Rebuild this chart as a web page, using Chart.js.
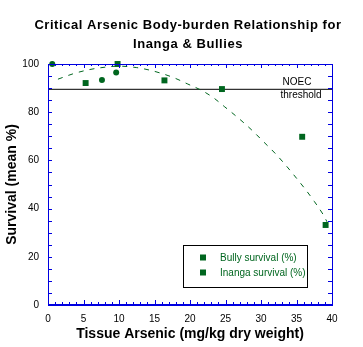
<!DOCTYPE html>
<html><head><meta charset="utf-8">
<script src="https://cdn.jsdelivr.net/npm/chart.js@4/dist/chart.umd.min.js"></script>
<style>html,body{margin:0;padding:0;background:#fff;overflow:hidden}</style>
</head><body>
<canvas id="c" width="363" height="347" style="width:363px;height:347px;display:block"></canvas>
<script>
const titleLines = ['Critical Arsenic Body-burden Relationship for', 'Inanga & Bullies'];
const xAxisTitle = 'Tissue Arsenic (mg/kg dry weight)';
const yAxisTitle = 'Survival (mean %)';
const seriesNames = ['Bully survival (%)', 'Inanga survival (%)'];
const bullyX = [5.3, 9.8, 16.4, 24.5, 35.8, 39.1];
const bullyY = [92.1, 100, 93.2, 89.6, 69.8, 33.2];
const inangaX = [0.6, 7.6, 9.6];
const inangaY = [100, 93.4, 96.5];
const fitX = [1.4, 3.5, 5.4, 7.3, 10.0, 12.5, 14.4, 16.2, 17.9, 19.6, 21.6, 23.3, 24.9, 26.8, 28.7, 30.3, 32.0, 33.6, 35.0, 36.3, 37.5, 38.8, 39.3];
const fitY = [93.7, 95.9, 97.4, 98.4, 99.1, 98.5, 97.4, 95.9, 94.1, 91.8, 89.1, 86.0, 82.2, 77.6, 72.6, 67.9, 62.9, 57.6, 52.6, 47.8, 43.0, 37.3, 34.5];
const noecValue = 89.5;
const noecRange = [0, 40];
const noecLabel = ['NOEC', 'threshold'];
const xRange = [0, 40];
const yRange = [0, 100];
const xStep = 5, yStep = 20;

const GREEN = '#00661f';
const BLUE = '#0000e0';
const FONT = "'Liberation Sans', Arial, sans-serif";

const pts = (xs, ys) => xs.map((x, i) => ({x, y: ys[i]}));

const framePlugin = {
  id: 'frame',
  afterDraw(chart) {
    const {ctx, chartArea: a, scales: {x, y}} = chart;
    ctx.save();
    ctx.strokeStyle = BLUE;
    ctx.lineWidth = 1;
    ctx.beginPath();
    for (let v = x.min; v <= x.max + 1e-9; v += 1) {
      const px = Math.round(x.getPixelForValue(v)) + 0.5;
      const len = (v % 5 === 0) ? 5 : 3;
      ctx.moveTo(px, a.bottom); ctx.lineTo(px, a.bottom - len);
      ctx.moveTo(px, a.top); ctx.lineTo(px, a.top + len - 1);
    }
    for (let v = y.min; v <= y.max + 1e-9; v += 5) {
      const py = Math.round(y.getPixelForValue(v)) + 0.5;
      ctx.moveTo(a.left, py); ctx.lineTo(a.left + 4, py);
      ctx.moveTo(a.right, py); ctx.lineTo(a.right - 4, py);
    }
    ctx.stroke();
    ctx.beginPath();
    ctx.rect(Math.round(a.left) + 0.5, Math.round(a.top) + 0.5, Math.round(a.right - a.left), Math.round(a.bottom - a.top));
    ctx.stroke();
    ctx.lineWidth = 2;
    ctx.beginPath();
    ctx.moveTo(a.left, Math.round(a.bottom)); ctx.lineTo(a.right + 1, Math.round(a.bottom));
    ctx.stroke();

    // NOEC label
    ctx.fillStyle = '#000';
    ctx.font = '10px ' + FONT;
    ctx.textAlign = 'center';
    ctx.textBaseline = 'middle';
    const ny = y.getPixelForValue(noecValue);
    const nx = x.getPixelForValue(35.5);
    ctx.fillText(noecLabel[0], nx - 3, ny - 7.5);
    ctx.fillText(noecLabel[1], nx + 1, ny + 6);

    // Legend
    const lx = x.getPixelForValue(19.0), ly = y.getPixelForValue(24.7);
    const lw = 124, lh = 42;
    ctx.fillStyle = '#fff';
    ctx.fillRect(Math.round(lx), Math.round(ly), lw, lh);
    ctx.strokeStyle = '#000';
    ctx.lineWidth = 1;
    ctx.strokeRect(Math.round(lx) + 0.5, Math.round(ly) + 0.5, lw, lh);
    ctx.textAlign = 'left';
    ctx.font = '10px ' + FONT;
    chart.data.datasets.slice(0, 2).forEach((ds, i) => {
      const ry = Math.round(ly) + 12.5 + i * 15;
      ctx.fillStyle = GREEN;
      ctx.fillRect(Math.round(lx) + 17, ry - 3, 6, 6);
      ctx.fillText(ds.label, Math.round(lx) + 37, ry + 0.5);
    });

    // Title
    ctx.fillStyle = '#000';
    ctx.font = 'bold 13px ' + FONT;
    ctx.textAlign = 'center';
    try { ctx.letterSpacing = '0.55px'; } catch (e) {}
    const cx = (a.left + a.right) / 2 - 2;
    ctx.fillText(titleLines[0], cx, 25);
    ctx.fillText(titleLines[1], cx, 44);
    ctx.restore();
  }
};

new Chart(document.getElementById('c'), {
  type: 'scatter',
  data: {
    datasets: [
      {label: seriesNames[0], data: pts(bullyX, bullyY), pointStyle: 'rect', pointRadius: 4.2, pointHoverRadius: 4.2,
       backgroundColor: GREEN, borderColor: GREEN, borderWidth: 0, showLine: false, order: 1, clip: false},
      {label: seriesNames[1], data: pts(inangaX, inangaY), pointStyle: 'circle', pointRadius: 3, pointHoverRadius: 3,
       backgroundColor: GREEN, borderColor: GREEN, borderWidth: 0, showLine: false, order: 1, clip: false},
      {label: 'fit', data: pts(fitX, fitY), showLine: true, pointRadius: 0, borderColor: GREEN, borderWidth: 1,
       borderDash: [5, 6], tension: 0.4, cubicInterpolationMode: 'monotone', order: 2},
      {label: 'NOEC', data: pts(noecRange, [noecValue, noecValue]), showLine: true, pointRadius: 0, borderColor: '#000', borderWidth: 1, order: 3}
    ]
  },
  options: {
    responsive: false,
    animation: false,
    devicePixelRatio: 1,
    layout: {padding: {top: 64, right: 31, left: 0, bottom: 0}},
    plugins: {legend: {display: false}, title: {display: false}, tooltip: {enabled: false}},
    scales: {
      x: {
        type: 'linear', min: xRange[0], max: xRange[1],
        grid: {display: false, drawTicks: false}, border: {display: false},
        ticks: {stepSize: xStep, color: '#000', font: {size: 10, family: FONT}, padding: 8, maxRotation: 0},
        title: {display: true, text: xAxisTitle, color: '#000', font: {size: 14, weight: 'bold', family: FONT}, padding: {top: 2, bottom: 4}},
        afterFit: s => { s.height = 42; }
      },
      y: {
        type: 'linear', min: yRange[0], max: yRange[1],
        grid: {display: false, drawTicks: false}, border: {display: false},
        ticks: {stepSize: yStep, color: '#000', font: {size: 10, family: FONT}, padding: 9},
        title: {display: true, text: yAxisTitle, color: '#000', font: {size: 14, weight: 'bold', family: FONT}, padding: {top: 4, bottom: 2}},
        afterFit: s => { s.width = 48; }
      }
    }
  },
  plugins: [framePlugin]
});
</script>
</body></html>
